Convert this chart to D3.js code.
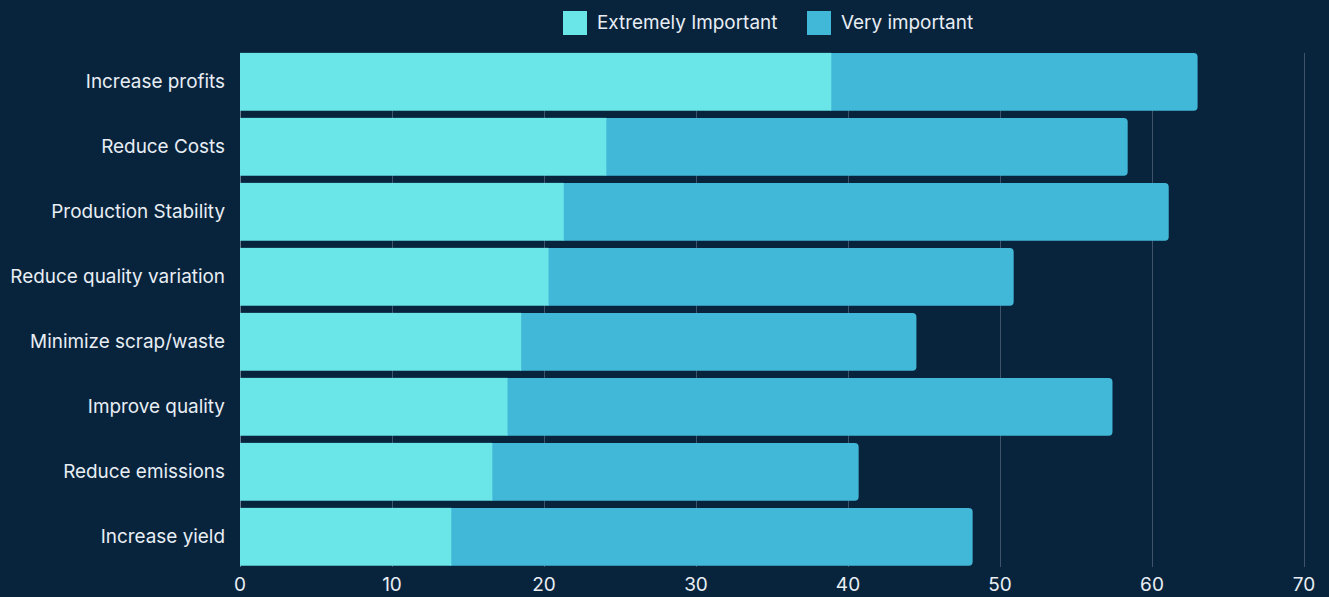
<!DOCTYPE html>
<html><head><meta charset="utf-8">
<script src="https://cdn.jsdelivr.net/npm/d3@7"></script>
<style>
html,body{margin:0;padding:0;background:#08243d;}
svg{display:block;font-family:Inter,"Noto Sans",sans-serif;}
</style></head><body>
<svg id="chart" width="1329" height="597"></svg>
<script>
const categories = ["Increase profits","Reduce Costs","Production Stability","Reduce quality variation","Minimize scrap/waste","Improve quality","Reduce emissions","Increase yield"];
const extremelyImportant = [38.9, 24.1, 21.3, 20.3, 18.5, 17.6, 16.6, 13.9];
const veryImportant = [24.1, 34.3, 39.8, 30.6, 26.0, 39.8, 24.1, 34.3];
const seriesNames = ["Extremely Important","Very important"];
const xTicks = [0,10,20,30,40,50,60,70];
const colors = ["#6ae6e8","#42b8d8"];

const svg = d3.select("#chart");
svg.append("rect").attr("width",1329).attr("height",597).attr("fill","#08243d");

const x = d3.scaleLinear().domain([0,70]).range([240,1304]);
const y = d3.scaleBand().domain(categories).range([49.3,569.3]).paddingInner(0.11).paddingOuter(0.055);

// gridlines
svg.append("g").selectAll("line").data(xTicks).join("line")
  .attr("x1",d=>x(d)).attr("x2",d=>x(d))
  .attr("y1",53).attr("y2",567)
  .attr("stroke",d=>d===0?"#6a7d90":"#3e546b").attr("stroke-width",1)
  .attr("shape-rendering","crispEdges");

const rows = categories.map((c,i)=>({c, e:extremelyImportant[i], v:veryImportant[i]}));

function roundedRight(x0,x1,y0,h,r){
  return `M${x0},${y0}H${x1-r}Q${x1},${y0} ${x1},${y0+r}V${y0+h-r}Q${x1},${y0+h} ${x1-r},${y0+h}H${x0}Z`;
}

const g = svg.append("g");
g.selectAll("path.v").data(rows).join("path").attr("class","v")
  .attr("d",d=>roundedRight(x(d.e)-1,x(d.e+d.v),y(d.c),y.bandwidth(),4))
  .attr("fill",colors[1]);
g.selectAll("rect.e").data(rows).join("rect").attr("class","e")
  .attr("x",x(0)).attr("y",d=>y(d.c))
  .attr("width",d=>x(d.e)-x(0)).attr("height",y.bandwidth())
  .attr("fill",colors[0]);

// category labels
svg.append("g").selectAll("text").data(categories).join("text")
  .attr("x",225).attr("y",d=>y(d)+y.bandwidth()/2)
  .attr("dy","0.35em").attr("text-anchor","end")
  .attr("fill","#e8eef4").attr("font-size",18.9).text(d=>d);

// x axis labels
svg.append("g").selectAll("text").data(xTicks).join("text")
  .attr("x",d=>x(d)).attr("y",584).attr("dy","0.35em")
  .attr("text-anchor","middle").attr("fill","#e8eef4").attr("font-size",19)
  .text(d=>d);

// legend
const legendX = [563,807];
const lg = svg.append("g");
seriesNames.forEach((n,i)=>{
  lg.append("rect").attr("x",legendX[i]).attr("y",11).attr("width",24).attr("height",24).attr("fill",colors[i]);
  lg.append("text").attr("x",legendX[i]+34).attr("y",22).attr("dy","0.35em")
    .attr("fill","#e8eef4").attr("font-size",18.9).text(n);
});
</script>
</body></html>
